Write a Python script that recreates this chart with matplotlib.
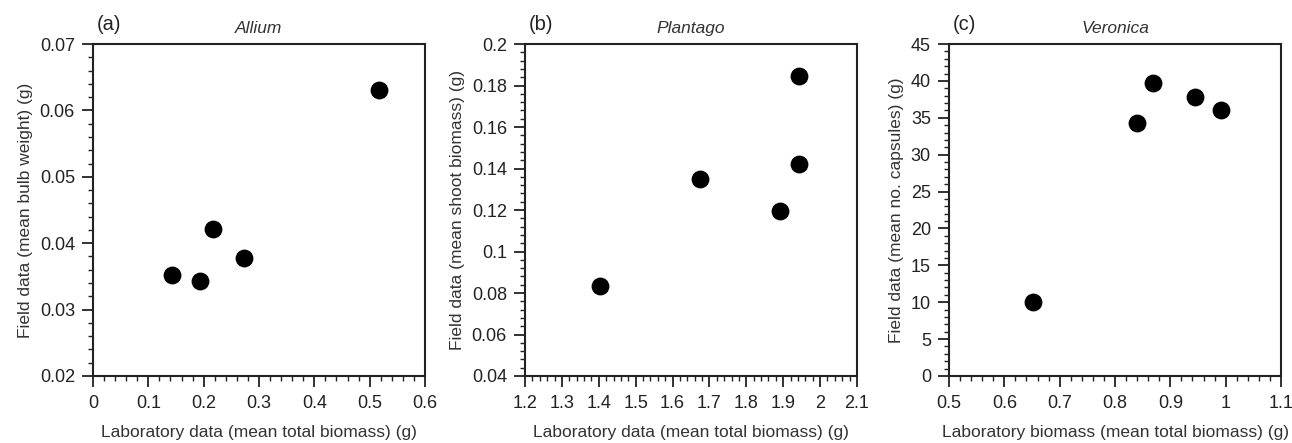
import matplotlib
matplotlib.use('Agg')
import matplotlib.pyplot as plt
from matplotlib.ticker import MultipleLocator
import numpy as np

plt.rcParams['font.family'] = ['Liberation Sans', 'DejaVu Sans']

# panel (a) Allium
allium_lab = [0.142, 0.193, 0.216, 0.273, 0.516]
allium_field = [0.0352, 0.0343, 0.0421, 0.0377, 0.0630]

# panel (b) Plantago
plantago_lab = [1.404, 1.675, 1.892, 1.944, 1.944]
plantago_field = [0.0835, 0.1351, 0.1197, 0.1422, 0.1847]

# panel (c) Veronica
veronica_lab = [0.652, 0.839, 0.868, 0.945, 0.992]
veronica_field = [10.0, 34.3, 39.7, 37.8, 36.0]

panels = [
    dict(x=allium_lab, y=allium_field, tag='(a)', title='Allium',
         xlim=(0, 0.6), ylim=(0.02, 0.07), xmaj=0.1, ymaj=0.01,
         xlabel='Laboratory data (mean total biomass) (g)',
         ylabel='Field data (mean bulb weight) (g)'),
    dict(x=plantago_lab, y=plantago_field, tag='(b)', title='Plantago',
         xlim=(1.2, 2.1), ylim=(0.04, 0.2), xmaj=0.1, ymaj=0.02,
         xlabel='Laboratory data (mean total biomass) (g)',
         ylabel='Field data (mean shoot biomass) (g)'),
    dict(x=veronica_lab, y=veronica_field, tag='(c)', title='Veronica',
         xlim=(0.5, 1.1), ylim=(0, 45), xmaj=0.1, ymaj=5,
         xlabel='Laboratory biomass (mean total biomass) (g)',
         ylabel='Field data (mean no. capsules) (g)'),
]

W, H = 1292, 443
fig = plt.figure(figsize=(W / 100, H / 100), dpi=100)
lefts = [93, 525, 949]
ax_w, ax_top, ax_bot = 332, 44, 376

def fmt(v, pos):
    s = ('%.2f' % v).rstrip('0').rstrip('.')
    return s if s != '-0' else '0'

for left, p in zip(lefts, panels):
    ax = fig.add_axes([left / W, 1 - ax_bot / H, ax_w / W, (ax_bot - ax_top) / H])
    ax.scatter(p['x'], p['y'], s=140, color='black', zorder=3, clip_on=False)
    ax.set_xlim(*p['xlim'])
    ax.set_ylim(*p['ylim'])
    ax.xaxis.set_major_locator(MultipleLocator(p['xmaj']))
    ax.xaxis.set_minor_locator(MultipleLocator(p['xmaj'] / 5))
    ax.yaxis.set_major_locator(MultipleLocator(p['ymaj']))
    ax.yaxis.set_minor_locator(MultipleLocator(p['ymaj'] / 5))
    ax.xaxis.set_major_formatter(plt.FuncFormatter(fmt))
    ax.yaxis.set_major_formatter(plt.FuncFormatter(fmt))
    ax.tick_params(which='major', direction='out', length=8, width=1.3,
                   labelsize=13, colors='#222222')
    ax.tick_params(axis='x', which='major', pad=6)
    ax.tick_params(axis='y', which='major', pad=5)
    ax.tick_params(which='minor', direction='out', length=3.5, width=1.0, colors='#222222')
    for sp in ax.spines.values():
        sp.set_linewidth(1.5)
        sp.set_color('#222222')
    ax.set_xlabel(p['xlabel'], fontsize=12.5, color='#333333', labelpad=9)
    ax.set_ylabel(p['ylabel'], fontsize=12.5, color='#333333', labelpad=5)
    ax.set_title(p['title'], fontsize=12.5, style='italic', color='#333333', pad=8)
    ax.text(0.01, 1.03, p['tag'], transform=ax.transAxes, fontsize=14.5,
            color='#222222', ha='left', va='bottom')

fig.savefig('out.png', dpi=100)
